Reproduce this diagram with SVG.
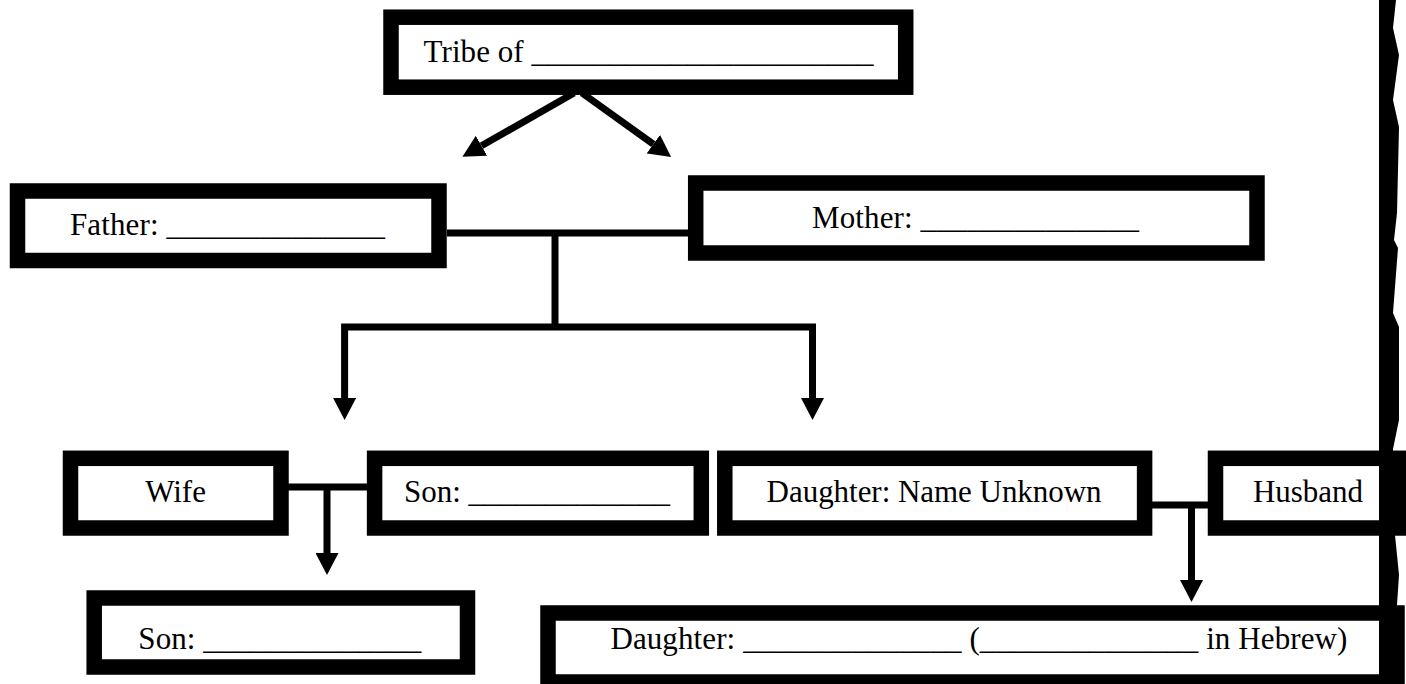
<svg xmlns="http://www.w3.org/2000/svg" width="1406" height="684" viewBox="0 0 1406 684">
<style>
.box{fill:#fff;stroke:#000;stroke-width:15.5}
.lbl{font-family:"Liberation Serif","Times New Roman",serif;font-size:31px;fill:#000}
.con{fill:none;stroke:#000;stroke-width:7;stroke-linejoin:miter}
.arr{marker-end:url(#head)}
</style>
<defs>
<marker id="head" markerUnits="userSpaceOnUse" viewBox="0 0 22 23" markerWidth="22" markerHeight="23" refX="0" refY="11.5" orient="auto">
<path d="M0,0 L22,11.5 L0,23 z" fill="#000"/>
</marker>
</defs>
<rect width="1406" height="684" fill="#fff"/>
<g id="connectors">
<path class="con arr" d="M574,93 L481.5,145.8"/>
<path class="con arr" d="M582,93 L653.3,144.2"/>
<path class="con" d="M447,233 H688"/>
<path class="con" d="M555,233 V327"/>
<path class="con arr" d="M555,327 H344.6 V398"/>
<path class="con arr" d="M555,327 H812.5 V398"/>
<path class="con" d="M288,487 H368"/>
<path class="con arr" d="M327,487 V553"/>
<path class="con" d="M1152,505 H1209"/>
<path class="con arr" d="M1191.5,505 V580"/>
</g>
<g id="tribe">
<rect class="box" x="391" y="17.2" width="514.7" height="70"/>
<text class="lbl" x="423.6" y="61.7" textLength="450">Tribe of ______________________</text>
</g>
<g id="father">
<rect class="box" x="17.5" y="191" width="421.5" height="69.5"/>
<text class="lbl" x="70" y="235" textLength="315">Father: ______________</text>
</g>
<g id="mother">
<rect class="box" x="695.7" y="183" width="561.3" height="70"/>
<text class="lbl" x="812" y="228.3" textLength="327">Mother: ______________</text>
</g>
<g id="wife">
<rect class="box" x="70.5" y="458.3" width="210.5" height="69.7"/>
<text class="lbl" x="175.6" y="501.7" text-anchor="middle">Wife</text>
</g>
<g id="son">
<rect class="box" x="374.6" y="458.3" width="326.7" height="69.7"/>
<text class="lbl" x="404" y="501.7" textLength="266">Son: _____________</text>
</g>
<g id="daughter">
<rect class="box" x="724.8" y="458.3" width="419.8" height="69.7"/>
<text class="lbl" x="766.6" y="501.7" textLength="335">Daughter: Name Unknown</text>
</g>
<g id="husband">
<rect class="box" x="1215.5" y="458.3" width="184" height="69.7"/>
<text class="lbl" x="1252.9" y="501.7">Husband</text>
</g>
<g id="son2">
<rect class="box" x="94.2" y="598" width="373.3" height="69"/>
<text class="lbl" x="138.3" y="649" textLength="283">Son: ______________</text>
</g>
<g id="daughter2">
<rect class="box" x="548" y="613" width="849" height="69"/>
<text class="lbl" x="610.4" y="649.3" textLength="737">Daughter: ______________ (______________ in Hebrew)</text>
</g>
<path id="edge" fill="#000" d="M1379,0 L1396,0 L1393,28 L1399,55 L1393,100 L1399,127 L1397,213 L1394,240 L1398,248 L1393,313 L1399,327 L1399,420 L1393,449 L1393,535 L1395,535 L1399,575 L1397,605 L1393,620 L1393,684 L1379,684 z"/>
</svg>
